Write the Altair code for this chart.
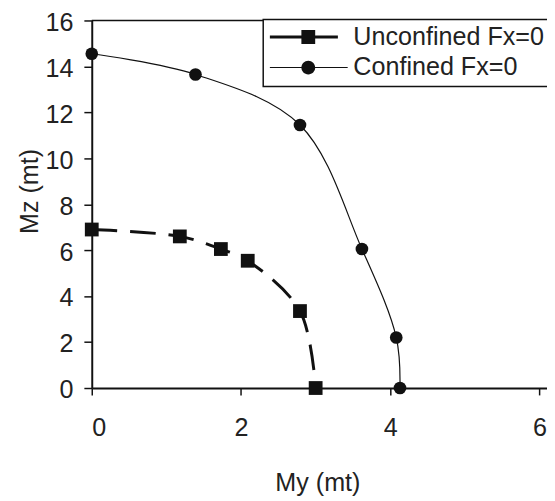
import altair as alt
import pandas as pd

FONT = "Liberation Sans"
INK = "#111111"
TXT = "#222222"
FS = 25.5

unc_label = "Unconfined Fx=0"
conf_label = "Confined Fx=0"
series_names = [unc_label, conf_label]

unc_my = [0.0, 1.18, 1.73, 2.09, 2.79, 3.0]
unc_mz = [6.9, 6.6, 6.05, 5.54, 3.35, 0.0]
conf_my = [0.0, 1.39, 2.79, 3.62, 4.08, 4.13]
conf_mz = [14.55, 13.65, 11.45, 6.05, 2.2, 0.0]

x_ticks = [0, 2, 4, 6]
y_ticks = [0, 2, 4, 6, 8, 10, 12, 14, 16]
x_domain = [0, 6.1]
y_domain = [0, 16]

df = pd.DataFrame({
    "series": [unc_label] * len(unc_my) + [conf_label] * len(conf_my),
    "My": unc_my + conf_my,
    "Mz": unc_mz + conf_mz,
    "idx": list(range(len(unc_my))) + list(range(len(conf_my))),
})

x_enc = alt.X(
    "My:Q",
    scale=alt.Scale(domain=x_domain, nice=False, zero=False),
    axis=alt.Axis(
        values=x_ticks, format="d", title="My (mt)", grid=False,
        domainColor=INK, domainWidth=2, tickColor=INK, tickSize=7, tickWidth=1.5,
        labelFont=FONT, labelFontSize=FS, labelColor=TXT, labelPadding=21,
        titleFont=FONT, titleFontSize=FS, titleFontWeight="normal", titleColor=TXT,
        titleX=229, titleY=84,
    ),
)
y_enc = alt.Y(
    "Mz:Q",
    scale=alt.Scale(domain=y_domain, nice=False),
    axis=alt.Axis(
        values=y_ticks, format="d", title="Mz (mt)", grid=False,
        domainColor=INK, domainWidth=2, tickColor=INK, tickSize=8, tickWidth=1.5,
        labelFont=FONT, labelFontSize=FS, labelColor=TXT, labelPadding=11, labelOffset=2,
        titleFont=FONT, titleFontSize=FS, titleFontWeight="normal", titleColor=TXT,
        titleX=-50, titleY=173,
    ),
)

base = alt.Chart(df)
unc = base.transform_filter(alt.datum.series == unc_label)
conf = base.transform_filter(alt.datum.series == conf_label)

unc_line = unc.mark_line(
    interpolate="catmull-rom", color=INK, strokeWidth=3, strokeDash=[26, 13]
).encode(x=x_enc, y=y_enc, order="idx:Q")

conf_line = conf.mark_line(
    interpolate="catmull-rom", color=INK, strokeWidth=1.2
).encode(x="My:Q", y="Mz:Q", order="idx:Q")

unc_points = unc.mark_point(
    shape="square", size=196, filled=True, opacity=1, color=INK, strokeWidth=0
).encode(x="My:Q", y="Mz:Q")

conf_points = conf.mark_point(
    shape="circle", size=165, filled=True, opacity=1, color=INK, strokeWidth=0
).encode(x="My:Q", y="Mz:Q")

# legend symbols: filled line + marker glyphs (units of 7 px);
# the trailing empty sub-path only widens the legend box past the right edge
UNC_PATH = "M-1.57,-0.214H8.29V0.214H-1.57Z M3,-1H5V1H3Z M40,0Z"
CONF_PATH = "M-1.57,-0.086H9.71V0.086H-1.57Z M5,0A1,1,0,1,1,3,0A1,1,0,1,1,5,0Z M40,0Z"

legend = alt.Legend(
    title=None, orient="none", legendX=174, legendY=-1, direction="vertical",
    strokeColor=INK, fillColor="white", padding=5,
    labelFont=FONT, labelFontSize=FS, labelColor=TXT, labelOffset=61, labelLimit=400,
    rowPadding=4, symbolSize=196, symbolStrokeWidth=0, symbolOpacity=1,
    symbolFillColor=INK,
)

# invisible layer whose only job is to carry the legend
legend_layer = base.mark_point(
    filled=True, opacity=0, color=INK, strokeWidth=0, size=196
).encode(
    x="My:Q",
    y="Mz:Q",
    shape=alt.Shape("series:N", scale=alt.Scale(domain=series_names, range=[UNC_PATH, CONF_PATH]), legend=legend),
)

top_df = pd.DataFrame({"x0": [x_domain[0]], "x1": [x_domain[1]], "y": [y_domain[1]]})
top_rule = alt.Chart(top_df).mark_rule(color=INK, strokeWidth=1.5).encode(
    x="x0:Q", x2="x1:Q", y="y:Q"
)

chart = alt.layer(unc_line, conf_line, top_rule, unc_points, conf_points, legend_layer).properties(
    width=462, height=373,
    padding={"left": 85, "top": 9, "right": 0, "bottom": 111},
    autosize=alt.AutoSizeParams(type="none"),
    background="white",
).configure_view(stroke=None).configure_legend(strokeWidth=1.5)

chart.save("out.html", embed_options={"renderer": "svg", "actions": False})
